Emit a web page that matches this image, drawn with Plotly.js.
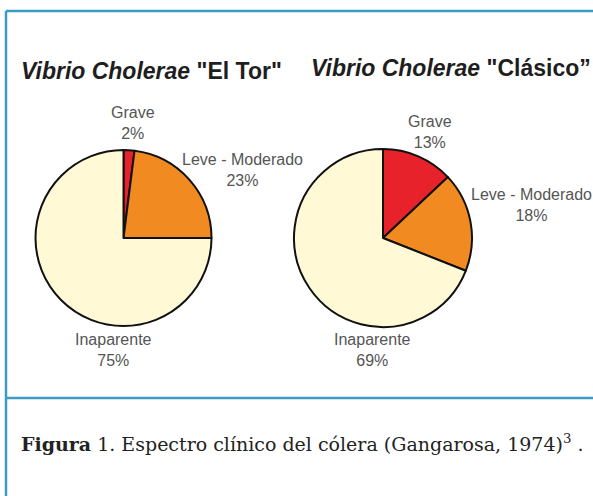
<!DOCTYPE html>
<html>
<head>
<meta charset="utf-8">
<script src="https://cdn.plot.ly/plotly-3.0.1.min.js"></script>
<style>
html,body{margin:0;padding:0;background:#fff;}
#chart{width:593px;height:496px;}
</style>
</head>
<body>
<div id="chart"></div>
<script>
// ---- data ----
const categories = ['Grave', 'Leve - Moderado', 'Inaparente'];
const elTorValues = [2, 23, 75];
const clasicoValues = [13, 18, 69];
const sliceColors = ['#e8222b', '#f28a22', '#fff9d6'];
const chartTitles = ['<i>Vibrio Cholerae</i> "El Tor"', '<i>Vibrio Cholerae</i> "Clásico”'];
const captionText = '<b>Figura</b> 1. Espectro clínico del cólera (Gangarosa, 1974)<sup>3</sup> .';

// ---- layout helpers (pixel -> paper) ----
const W = 593, H = 496;
const px = x => x / W;
const py = y => 1 - y / H;

function pieTrace(values, dom) {
  return {
    type: 'pie',
    labels: categories,
    values: values,
    sort: false,
    direction: 'clockwise',
    rotation: 0,
    textinfo: 'none',
    hoverinfo: 'none',
    showlegend: false,
    marker: {colors: sliceColors, line: {color: '#111', width: 2}},
    domain: {x: [px(dom[0]), px(dom[1])], y: [py(dom[3]), py(dom[2])]}
  };
}

const traces = [
  pieTrace(elTorValues, [35.5, 211.5, 150, 326]),
  pieTrace(clasicoValues, [294, 472, 149, 327])
];

const labelFont = {family: 'Liberation Sans, Arial, sans-serif', size: 16, color: '#555'};
function label(text, x, y) {
  return {text: text, x: px(x), y: py(y), xref: 'paper', yref: 'paper',
          showarrow: false, xanchor: 'center', yanchor: 'middle', align: 'center',
          font: labelFont};
}
function lbl(i, vals) { return categories[i] + '<br>' + vals[i] + '%'; }

const annotations = [
  {text: '<b>' + chartTitles[0] + '</b>', x: px(19), y: py(71), xref: 'paper', yref: 'paper',
   showarrow: false, xanchor: 'left', yanchor: 'middle',
   font: {family: 'Liberation Sans, Arial, sans-serif', size: 23, color: '#1e1e1e'}},
  {text: '<b>' + chartTitles[1] + '</b>', x: px(309), y: py(68), xref: 'paper', yref: 'paper',
   showarrow: false, xanchor: 'left', yanchor: 'middle',
   font: {family: 'Liberation Sans, Arial, sans-serif', size: 23, color: '#1e1e1e'}},
  label(lbl(0, elTorValues), 133, 123),
  label(lbl(1, elTorValues), 243, 170),
  label(lbl(2, elTorValues), 113, 350),
  label(lbl(0, clasicoValues), 430, 132),
  label(lbl(1, clasicoValues), 531, 205),
  label(lbl(2, clasicoValues), 372, 350),
  {text: captionText, x: px(19), y: py(443), xref: 'paper', yref: 'paper',
   showarrow: false, xanchor: 'left', yanchor: 'middle',
   font: {family: 'DejaVu Serif, serif', size: 19, color: '#222'}}
];

const frameColor = '#3b9cc3';
const shapes = [
  {type: 'line', xref: 'paper', yref: 'paper', x0: px(6), x1: px(600), y0: py(11), y1: py(11), line: {color: frameColor, width: 2.5}},
  {type: 'line', xref: 'paper', yref: 'paper', x0: px(6), x1: px(6), y0: py(11), y1: py(500), line: {color: frameColor, width: 2.5}},
  {type: 'line', xref: 'paper', yref: 'paper', x0: px(6), x1: px(600), y0: py(398), y1: py(398), line: {color: frameColor, width: 2.5}}
];

const layout = {
  width: W, height: H,
  margin: {l: 0, r: 0, t: 0, b: 0},
  paper_bgcolor: '#fff',
  plot_bgcolor: '#fff',
  annotations: annotations,
  shapes: shapes,
  showlegend: false
};

Plotly.newPlot('chart', traces, layout, {displayModeBar: false, staticPlot: true});
</script>
</body>
</html>
